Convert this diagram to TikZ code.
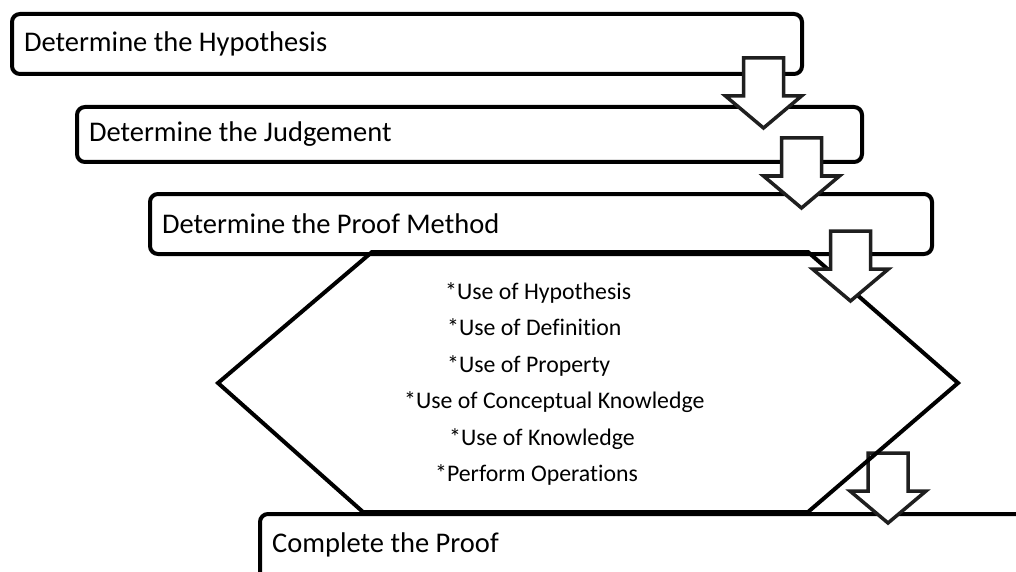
\documentclass[tikz,border=0pt]{standalone}
\usepackage{fontspec}
\setmainfont{Carlito}[Ligatures={NoCommon}]
\usetikzlibrary{positioning}

\tikzset{
  stepbox/.style={draw, line width=4pt, rounded corners=8pt, fill=white,
    anchor=north west, align=flush left, inner xsep=12pt, inner ysep=0pt,
    font=\fontsize{28.5}{34}\selectfont},
  blockarrow/.style={draw=black!88, line width=3.5pt, fill=white, line join=miter},
  hexline/.style={line width=4pt, line join=miter},
  itemtext/.style={anchor=base west, inner sep=0pt, font=\fontsize{23.8}{28}\selectfont}
}
% block arrow pointing down, top centre at (#1,#2)
\newcommand{\downblock}[2]{%
  \draw[blockarrow] (#1,#2) ++(-20,0) -- ++(40,0) -- ++(0,38) -- ++(18,0)
    -- ++(-38,32) -- ++(-38,-32) -- ++(18,0) -- cycle;}

\begin{document}
\begin{tikzpicture}[x=1pt,y=-1pt]
  \clip (0,0) rectangle (1016,572);
  \fill[white] (0,0) rectangle (1016,572);

  % steps 1 and 2
  \node[stepbox, text width=766pt, minimum height=60pt] (hyp) at (10,12) {Determine the Hypothesis};
  \node[stepbox, text width=761pt, minimum height=55pt] (judge) at (75,105) {Determine the Judgement};
  \downblock{763.5}{58}

  % step 3
  \node[stepbox, text width=758pt, minimum height=60pt] (method) at (148,192) {Determine the Proof Method};
  \downblock{801.5}{138}

  % last step, running off the page
  \node[stepbox, minimum width=800pt, minimum height=90pt] (proof) at (258,512) {};
  \node[itemtext, font=\fontsize{28.5}{34}\selectfont] (prooftxt) at (272,552) {Complete the Proof};
  \downblock{888}{453}

  % hexagon of proof steps
  \draw[hexline] (372,252) -- (808,252) -- (958,383) -- (808,512)
    -- (363,512) -- (218,383) -- cycle;
  \downblock{850.5}{231}

  \node[itemtext] (use1) at (445,299) {*Use of Hypothesis};
  \node[itemtext] (use2) at (447,335) {*Use of Definition};
  \node[itemtext] (use3) at (447,372) {*Use of Property};
  \node[itemtext] (use4) at (404,408) {*Use of Conceptual Knowledge};
  \node[itemtext] (use5) at (449,445) {*Use of Knowledge};
  \node[itemtext] (use6) at (435,481) {*Perform Operations};
\end{tikzpicture}
\end{document}
